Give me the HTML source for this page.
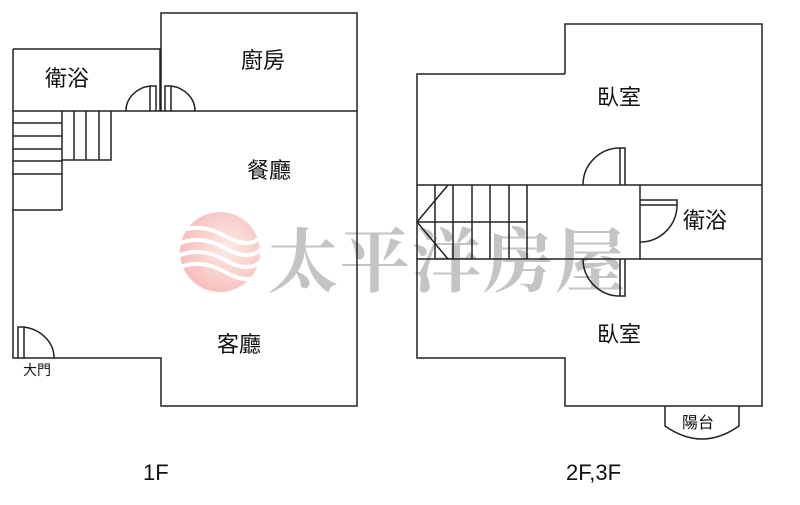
<!DOCTYPE html>
<html><head><meta charset="utf-8"><style>
html,body{margin:0;padding:0;background:#fff;}
svg{display:block}
text{font-family:"Liberation Sans","Noto Sans CJK TC",sans-serif;fill:#111}
</style></head><body>
<svg width="800" height="505" viewBox="0 0 800 505" xmlns="http://www.w3.org/2000/svg">
<defs>
<radialGradient id="g" cx="0.6" cy="0.45" r="0.6">
<stop offset="0" stop-color="#fbe3dc"/><stop offset="1" stop-color="#f2a9a8"/>
</radialGradient>
</defs>
<circle cx="220" cy="252" r="40" fill="url(#g)" opacity="0.75"/>
<g stroke="#fff" stroke-width="4" fill="none">
<path d="M178 232 Q200 222 225 236 T262 236"/>
<path d="M178 244 Q200 234 225 248 T262 248"/>
<path d="M178 256 Q200 246 225 260 T262 260"/>
<path d="M178 268 Q200 258 225 272 T262 272"/>
</g>
<text x="268" y="286" textLength="357" font-size="70" font-weight="bold" style="fill:#c4c4c4;font-family:'Noto Serif CJK SC','Liberation Serif',serif">太平洋房屋</text>

<g stroke="#222" stroke-width="1.5" fill="none">
<path d="M13 49 H160 V111"/>
<path d="M161 111 V13 H357 V406 H161 V358 H13 V49"/>
<path d="M13 111 H357"/>
<path d="M13 123 H62 M13 136 H62 M13 149 H62 M13 161 H62 M13 174 H62 M13 210 H62 M62 111 V210"/>
<path d="M62 160 H111 V111 M74 111 V160 M86 111 V160 M99 111 V160"/>
<path d="M126 111 A28 25 0 0 1 150 86 H156 V111 M150 86 V111"/>
<path d="M195 111 A28 25 0 0 0 171 86 H165 V111 M171 86 V111"/>
<path d="M54 358 A36 31 0 0 0 24 327 H18 V358 M24 327 V358"/>
<path d="M565 74 V24 H762 V406 H565 V358 H417 V74 H565"/>
<path d="M417 185 H762 M417 259 H762 M640 185 V259"/>
<path d="M435 185 V259 M453 185 V259 M472 185 V259 M490 185 V259 M509 185 V259 M527 185 V259 M417 222 H527"/>
<path d="M448 185 L417 222 L448 259"/>
<path d="M583 185 A37 37 0 0 1 620 148 H625 V185 M620 148 V185"/>
<path d="M583 259 A37 37 0 0 0 620 296 H625 V259 M620 296 V259"/>
<path d="M640 242 A37 37 0 0 0 677 205 V200 H640 M640 205 H677"/>
<path d="M665 406 V426 Q702 452 739 426 V406"/>
</g>

<g font-size="22">
<text x="45" y="86">衛浴</text>
<text x="241" y="68">廚房</text>
<text x="247" y="178">餐廳</text>
<text x="217" y="352">客廳</text>
<text x="597" y="105">臥室</text>
<text x="683" y="228">衛浴</text>
<text x="597" y="342">臥室</text>
</g>
<text x="23" y="375" font-size="14">大門</text>
<text x="682" y="428" font-size="16">陽台</text>
<text x="143" y="480" font-size="22">1F</text>
<text x="566" y="480" font-size="22">2F,3F</text>
</svg>
</body></html>
